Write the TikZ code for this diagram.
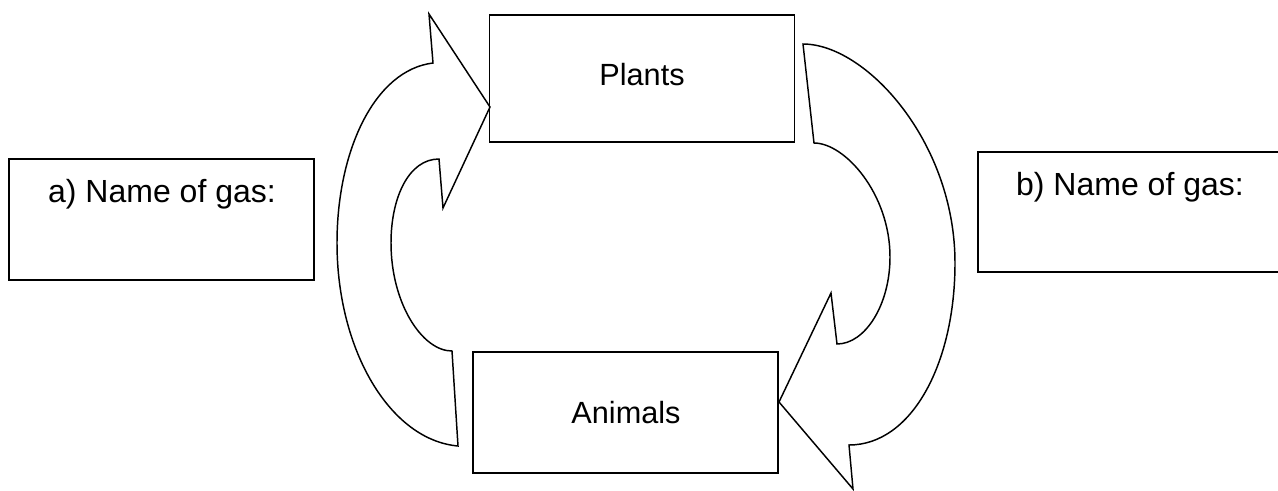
\documentclass[tikz,border=0pt]{standalone}
\usepackage{fontspec}
\setmainfont{Liberation Sans}
\begin{document}
\begin{tikzpicture}[x=0.75pt,y=-0.75pt,
  box/.style={draw=black,line width=1.4pt,fill=none,inner sep=0pt,outer sep=0pt},
  lbl/.style={inner sep=0pt,anchor=base,font=\fontsize{23}{27}\selectfont},
  gaslbl/.style={inner sep=0pt,anchor=base,font=\fontsize{24}{28}\selectfont},
  bent/.style={draw=black,line width=1.1pt,line join=miter,fill=white}]
\useasboundingbox (0,0) rectangle (1278,490);
\fill[white] (0,0) rectangle (1278,490);
% boxes
\node[box,minimum width=305*0.75pt,minimum height=127*0.75pt] (plants) at (642,78.5) {};
\node[box,minimum width=305*0.75pt,minimum height=121*0.75pt] (animals) at (625.5,412.5) {};
\node[box,minimum width=305*0.75pt,minimum height=121*0.75pt] (gasA) at (161.5,219.5) {};
\node[box,minimum width=312*0.75pt,minimum height=120*0.75pt] (gasB) at (1134,212) {};
% labels
\node[lbl] (tplants) at (642,85) {Plants};
\node[lbl] (tanimals) at (626,423) {Animals};
\node[gaslbl] (tgasA) at (162,202) {a) Name of gas:};
\node[gaslbl] (tgasB) at (1130,195) {b) Name of gas:};
% left curved arrow (animals -> plants)
\draw[bent] (490,107) -- (443,208) -- (439,159)
  .. controls (409,159) and (391,197) .. (391,243)
  .. controls (391,303) and (422,351) .. (452,351)
  -- (458,446)
  .. controls (390,440) and (337,350) .. (337,243)
  .. controls (337,150) and (375,70) .. (433,63)
  -- (429,14) -- cycle;
% right curved arrow (plants -> animals)
\draw[bent] (803,44) -- (814,143)
  .. controls (845,143) and (890,194) .. (890,257)
  .. controls (890,305) and (865,344) .. (837,344)
  -- (831,293) -- (779,402) -- (853,489) -- (849,445)
  .. controls (912,445) and (955,363) .. (955,263)
  .. controls (955,142) and (866,44) .. (803,44) -- cycle;
\end{tikzpicture}
\end{document}
